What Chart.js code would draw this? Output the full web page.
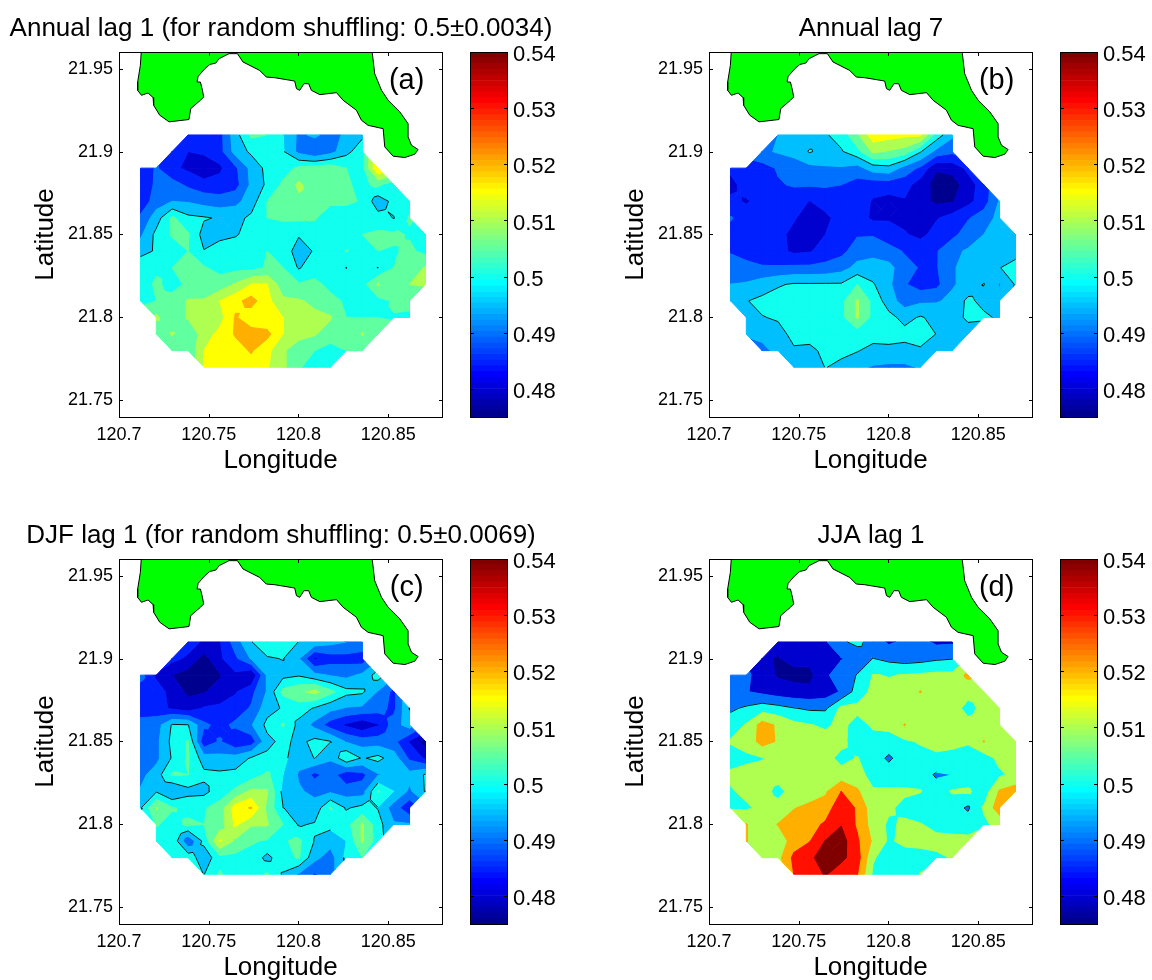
<!DOCTYPE html>
<html><head><meta charset="utf-8"><style>
html,body{margin:0;padding:0;background:#fff;width:1152px;height:980px;overflow:hidden}
canvas{position:absolute;display:block}
</style>
<script src="https://cdn.jsdelivr.net/npm/chart.js@4/dist/chart.umd.min.js"></script>
</head><body>
<script>
const lons=[120.712,120.7208,120.7296,120.7385,120.7473,120.7561,120.7649,120.7737,120.7826,120.7914,120.8002,120.8090,120.8178,120.8267,120.8355,120.8443,120.8531,120.8619,120.8708];
const lats=[21.91,21.90,21.89,21.88,21.87,21.86,21.85,21.84,21.83,21.82,21.81,21.80,21.79,21.78,21.77];
const rowStart=[3,2,0,0,0,0,0,0,0,0,0,1,1,2,4];

const annualLag1=[
[.487,.487,.488,.498,.506,.505,.500,.494,.496,.493,.496,.499],
[.487,.485,.486,.488,.497,.501,.502,.5005,.4935,.490,.493,.4985,.503],
[.487,.4905,.486,.484,.481,.484,.489,.4965,.5015,.503,.506,.507,.508,.505,.503,.52],
[.486,.491,.492,.489,.487,.487,.488,.496,.501,.506,.511,.507,.506,.5055,.504,.506,.502],
[.4865,.4925,.495,.4945,.493,.492,.4935,.4975,.505,.507,.509,.510,.506,.506,.5045,.497,.5015,.503],
[.491,.4975,.506,.5012,.5005,.4995,.4985,.501,.505,.5055,.506,.5055,.502,.502,.503,.502,.4998,.5055],
[.494,.5015,.5055,.5055,.498,.4985,.4995,.502,.503,.503,.5005,.5025,.5025,.5025,.505,.506,.506,.5045,.503],
[.4985,.5005,.503,.505,.5002,.5025,.503,.503,.505,.503,.4975,.5005,.503,.5052,.503,.505,.5045,.506,.5035],
[.503,.5045,.505,.506,.5055,.5035,.5035,.5035,.5055,.505,.4995,.503,.503,.4999,.5025,.4999,.505,.5065,.5105],
[.5035,.5055,.504,.5055,.506,.507,.5105,.515,.515,.507,.5055,.506,.504,.503,.503,.5105,.506,.510,.5105],
[.503,.505,.506,.5105,.5105,.515,.5185,.522,.5165,.511,.5105,.509,.506,.5045,.5035,.5035,.5055,.5065],
[.511,.506,.5105,.511,.513,.5205,.517,.516,.515,.512,.511,.5105,.505,.505,.505,.5048,.504],
[.5055,.5105,.506,.5125,.5165,.5205,.522,.5215,.515,.5115,.5105,.5075,.505,.5105,.506],
[.505,.5055,.515,.517,.518,.5205,.5165,.5105,.5075,.505,.503,.505,.505],
[.5155,.517,.518,.518,.5155,.511,.5055,.503,.5035]];

const annualLag7=[
[.495,.4965,.497,.4995,.502,.509,.518,.517,.516,.516,.503,.496],
[.494,.4955,.4965,.5005,.498,.4995,.5035,.511,.5095,.508,.5005,.4935,.491],
[.486,.4865,.488,.4905,.4925,.4935,.4945,.4945,.493,.4975,.4985,.493,.489,.4805,.482,.486],
[.4835,.487,.4875,.4895,.4905,.4905,.4905,.49,.488,.487,.487,.487,.4825,.478,.477,.483,.487],
[.486,.4845,.4865,.4875,.487,.4848,.4875,.4885,.4875,.4845,.4835,.4845,.4815,.479,.4795,.4835,.4875,.4955],
[.4905,.4875,.4875,.4875,.4855,.4825,.4835,.4875,.4875,.484,.4845,.4835,.4825,.4845,.487,.4895,.4925,.4965],
[.488,.4875,.4875,.4865,.4835,.4825,.485,.487,.4895,.4895,.487,.4855,.4835,.487,.4885,.4925,.495,.4965,.4965],
[.4895,.488,.487,.4865,.484,.4845,.487,.4885,.4925,.4935,.492,.4895,.4885,.4895,.494,.4955,.4965,.4975,.4975],
[.4925,.4915,.4905,.4905,.491,.491,.4915,.493,.4965,.497,.4965,.492,.4895,.4895,.4945,.4965,.4975,.4998,.5025],
[.495,.4955,.4975,.4995,.5005,.5005,.5005,.5005,.505,.5005,.496,.4905,.4875,.4885,.4945,.4965,.5002,.4945,.5005],
[.4955,.4998,.5012,.502,.5025,.503,.503,.5035,.5105,.5035,.4975,.4925,.494,.4945,.496,.5012,.4985,.4965],
[.4975,.4998,.5005,.5025,.503,.5035,.5035,.5105,.5035,.5015,.4985,.5005,.4985,.4965,.5015,.501,.4992],
[.4955,.4965,.4985,.5012,.5025,.503,.5035,.5025,.502,.5025,.5015,.505,.4998,.4965,.4965],
[.4935,.4965,.4995,.4985,.5015,.5015,.5003,.4985,.4985,.4985,.4985,.4965,.4965],
[.495,.4965,.5002,.4985,.4965,.4945,.494,.494,.4955]];

const djfLag1=[
[.4875,.484,.4845,.4925,.4998,.5035,.505,.4998,.4985,.4965,.495,.494],
[.4865,.484,.478,.484,.489,.4955,.4995,.5002,.4955,.484,.4875,.488,.487],
[.492,.484,.48,.4775,.4765,.4795,.484,.48,.496,.4985,.4995,.4965,.4945,.4935,.496,.5025],
[.487,.4875,.483,.479,.4795,.482,.4845,.4885,.4955,.5065,.509,.5115,.5065,.5015,.5008,.4945,.4885],
[.488,.4875,.484,.482,.4855,.486,.4875,.4905,.498,.5005,.5025,.4995,.4965,.4945,.494,.492,.4885,.5003],
[.4915,.4925,.5005,.5002,.491,.4885,.491,.4945,.5015,.5055,.4985,.4935,.4875,.484,.481,.4845,.4925,.4975],
[.4925,.4935,.5015,.5055,.486,.4905,.4855,.487,.4985,.5015,.4985,.5015,.5002,.4945,.4925,.4925,.4915,.4845,.4775],
[.492,.4935,.5005,.5055,.4975,.4965,.497,.5005,.5012,.5015,.4965,.5002,.4955,.5045,.4995,.5015,.4975,.489,.484],
[.4935,.4975,.5055,.505,.5012,.501,.5015,.5025,.506,.5,.4945,.4885,.4925,.4865,.4885,.4945,.4965,.4965,.5005],
[.4955,.4995,.4945,.4985,.4985,.5025,.506,.511,.5105,.4985,.4955,.494,.494,.4925,.4925,.5055,.5,.494,.5005],
[.4995,.5105,.5055,.5035,.5045,.507,.5175,.5205,.5085,.5002,.497,.4965,.5055,.4995,.5015,.4998,.4925,.486],
[.5055,.503,.506,.505,.507,.516,.5105,.5105,.505,.4995,.5005,.5015,.503,.5105,.502,.4955,.4955],
[.5005,.5045,.4905,.5015,.5155,.509,.5055,.5045,.5045,.506,.4998,.497,.5,.5105,.5025],
[.5035,.5035,.4965,.5035,.5035,.5035,.4985,.5035,.5055,.4965,.4925,.5015,.505],
[.4998,.5055,.503,.503,.5055,.4995,.4945,.4895,.4925]];

const jjaLag1=[
[.482,.484,.485,.489,.4985,.5025,.496,.4885,.492,.4935,.488,.4885],
[.481,.4795,.4825,.483,.484,.4895,.4935,.5002,.4975,.4955,.4965,.4985,.4995],
[.4935,.4925,.484,.479,.4775,.477,.4885,.4945,.5005,.5105,.5095,.5105,.5115,.5125,.5125,.5225],
[.492,.4905,.4875,.4845,.483,.4825,.4845,.491,.5045,.5125,.513,.5135,.5205,.515,.5135,.5125,.5115],
[.4985,.5015,.5055,.5035,.5005,.4985,.4985,.5125,.5125,.514,.5135,.5135,.5135,.5135,.5135,.5075,.5125,.5105],
[.5045,.511,.524,.5185,.5125,.5105,.5085,.5125,.5065,.5115,.513,.5205,.5135,.5135,.5135,.5125,.5115,.5115],
[.511,.513,.524,.519,.5135,.514,.5135,.513,.5045,.5065,.5055,.5085,.511,.5125,.5135,.511,.5205,.5145,.5105],
[.5055,.5085,.5095,.5135,.5135,.5135,.5135,.507,.5105,.5045,.4985,.5045,.5065,.5085,.506,.506,.5055,.5125,.5135],
[.512,.5125,.513,.5135,.5135,.5135,.5135,.5135,.5135,.5065,.5045,.5045,.5055,.4985,.5,.5045,.5055,.5085,.5125],
[.509,.5125,.5135,.5075,.5135,.5145,.5185,.53,.5215,.511,.5115,.5115,.5105,.505,.511,.5115,.5045,.521,.5245],
[.509,.5085,.5125,.5135,.5195,.5225,.5245,.5375,.5285,.514,.5115,.5075,.505,.505,.5045,.4985,.511,.526],
[.5205,.5135,.5205,.5245,.5265,.5315,.5395,.5285,.5155,.5085,.5115,.5105,.5075,.5065,.5055,.5085,.5125],
[.5205,.5135,.5135,.5245,.5295,.5405,.5445,.5315,.5185,.5085,.5125,.5135,.5125,.5125,.5125],
[.5105,.5165,.5325,.5385,.5435,.5425,.5345,.511,.5055,.5055,.5055,.5085,.5105],
[.5305,.5345,.541,.5345,.5305,.5085,.5045,.5045,.5105]];

const coastLon=[120.7127,120.7119,120.7104,120.7104,120.7125,120.7162,120.7190,120.7193,120.7227,120.7279,120.7390,120.7400,120.7454,120.7472,120.7465,120.7454,120.7435,120.7441,120.7478,120.7506,120.7539,120.7558,120.7613,120.7660,120.7691,120.7784,120.7821,120.7868,120.7979,120.7989,120.8007,120.8031,120.8057,120.8072,120.8119,120.8212,120.8249,120.8323,120.8351,120.8388,120.8472,120.8481,120.8528,120.8593,120.8648,120.8667,120.8630,120.8611,120.8611,120.8565,120.8500,120.8463,120.8425,120.8412,120.8412];
const coastLat=[21.965,21.9519,21.9419,21.9369,21.9339,21.9353,21.9325,21.9279,21.9219,21.9179,21.9193,21.9259,21.9309,21.9329,21.9369,21.9419,21.9419,21.9453,21.9499,21.9525,21.9533,21.9560,21.9590,21.9590,21.9540,21.9489,21.9449,21.9445,21.9425,21.9379,21.9369,21.9409,21.9409,21.9369,21.9343,21.9355,21.9309,21.9249,21.9189,21.9158,21.9138,21.9028,21.8972,21.8964,21.8984,21.9012,21.9038,21.9088,21.9168,21.9239,21.9309,21.9369,21.9469,21.9590,21.965];

const lonTicks=[120.7,120.75,120.8,120.85];
const latTicks=[21.75,21.8,21.85,21.9,21.95];
const colorTicks=[.48,.49,.50,.51,.52,.53,.54];
const levelsFine=[.475,.48,.485,.49,.495,.5,.505,.51,.515,.52,.525,.53,.535,.54];
const levelsCoarse=[.475,.48,.49,.5,.51,.52,.53,.54];
const contourLevel=.5;
const titles=['Annual lag 1 (for random shuffling: 0.5±0.0034)','Annual lag 7','DJF lag 1 (for random shuffling: 0.5±0.0069)','JJA lag 1'];
const tags=['(a)','(b)','(c)','(d)'];
const grids=[annualLag1,annualLag7,djfLag1,jjaLag1];
const gridLevels=[levelsFine,levelsFine,levelsFine,levelsCoarse];

const FONT='"Liberation Sans", Arial, sans-serif';
const CMIN=.475,CMAX=.54;
Chart.defaults.color='#000';
Chart.defaults.font.family=FONT;

function jet(k){ // MATLAB jet(64), k = 1..64
  const u=j=>j<1?0:j<=16?j/16:j<=31?1:j<48?(48-j)/16:0;
  return `rgb(${Math.round(255*u(k-24))},${Math.round(255*u(k-8))},${Math.round(255*u(k+8))})`;
}
function levelColor(v){
  const idx=Math.min(63,Math.floor((v-CMIN)/(CMAX-CMIN)*64+1e-9));
  return jet(idx+1);
}
function fullGrid(rows){
  return lats.map((_,j)=>lons.map((_,i)=>{
    const k=i-rowStart[j];
    const v=rows[j][k];
    return (k>=0 && v!==undefined)?v:null;
  }));
}
function cellPolygons(G){
  const out=[];
  for(let j=0;j<lats.length-1;j++)for(let i=0;i<lons.length-1;i++){
    const p=[[i,j],[i+1,j],[i+1,j+1],[i,j+1]]
      .filter(([a,b])=>G[b][a]!==null)
      .map(([a,b])=>({x:lons[a],y:lats[b],v:G[b][a]}));
    if(p.length<3)continue;
    if(p.length===4){
      const [a,b,c,d]=p.map(q=>q.v);
      const saddle=Math.min(a,c)>Math.max(b,d)||Math.min(b,d)>Math.max(a,c);
      if(saddle){
        // saddle cell: split round its centre so the contours do not bridge wrongly
        const m={x:(p[0].x+p[2].x)/2,y:(p[0].y+p[2].y)/2,v:(a+b+c+d)/4};
        for(let k=0;k<4;k++)out.push([p[k],p[(k+1)%4],m]);
        continue;
      }
    }
    out.push(p);
  }
  return out;
}
function lerp(a,b,l){const t=(l-a.v)/(b.v-a.v);return{x:a.x+(b.x-a.x)*t,y:a.y+(b.y-a.y)*t,v:l};}
function clip(poly,l,keepAbove){
  const res=[],ok=q=>keepAbove?q.v>=l:q.v<=l;
  for(let i=0;i<poly.length;i++){
    const a=poly[i],b=poly[(i+1)%poly.length];
    if(ok(a))res.push(a);
    if(ok(a)!==ok(b))res.push(lerp(a,b,l));
  }
  return res;
}
function bandDatasets(G,levels){
  const cells=cellPolygons(G),ds=[];
  levels.forEach((lo,n)=>{
    const hi=n+1<levels.length?levels[n+1]:Infinity;
    const low=n===0?-Infinity:lo;
    const col=levelColor(lo);
    cells.forEach(c=>{
      let p=c;
      if(low>-Infinity)p=clip(p,low,true);
      if(p.length>=3&&hi<Infinity)p=clip(p,hi,false);
      if(p.length<3)return;
      const data=p.map(q=>({x:q.x,y:q.y}));
      data.push(data[0]);
      ds.push({data,showLine:true,fill:'shape',backgroundColor:col,borderColor:col,borderWidth:1,pointRadius:0,tension:0});
    });
  });
  return ds.reverse();
}
function contourData(G,l){
  const pts=[],gap={x:NaN,y:NaN};
  cellPolygons(G).forEach(c=>{
    const cr=[];
    c.forEach((a,i)=>{
      const b=c[(i+1)%c.length];
      if((a.v-l)*(b.v-l)<0)cr.push(lerp(a,b,l));
    });
    if(cr.length===2)pts.push(cr[0],cr[1],gap);
  });
  return pts.map(q=>({x:q.x,y:q.y}));
}

const frame={id:'frame',afterDatasetsDraw(chart,_a,opts){
  const {ctx,chartArea:A}=chart;
  ctx.save();
  ctx.strokeStyle='#000';ctx.lineWidth=1;
  const L=A.left+.5,R=A.right+.5,T=A.top+.5,B=A.bottom+.5,len=3.5;
  ctx.strokeRect(L,T,R-L,B-T);
  ctx.beginPath();
  const xs=chart.scales.x,ys=chart.scales.y;
  if(opts.xTicks)xs.ticks.forEach(t=>{const p=Math.round(xs.getPixelForValue(t.value))+.5;ctx.moveTo(p,B);ctx.lineTo(p,B-len);ctx.moveTo(p,T);ctx.lineTo(p,T+len);});
  ys.ticks.forEach(t=>{const p=Math.round(ys.getPixelForValue(t.value))+.5;ctx.moveTo(L,p);ctx.lineTo(L+len,p);ctx.moveTo(R,p);ctx.lineTo(R-len,p);});
  ctx.stroke();
  if(opts.tag){
    ctx.fillStyle='#000';ctx.font='29px '+FONT;ctx.textAlign='center';ctx.textBaseline='middle';
    ctx.fillText(opts.tag,xs.getPixelForValue(120.8603),ys.getPixelForValue(21.9425));
  }
  ctx.restore();
}};

function addCanvas(left,top,w,h){
  const c=document.createElement('canvas');
  c.width=w;c.height=h;c.style.left=left+'px';c.style.top=top+'px';
  document.body.appendChild(c);
  return c;
}
const PW=562,PH=480,AXL=119,PADR=120;

function drawPanel(n,left,top){
  const G=fullGrid(grids[n]);
  const coast=coastLon.map((x,i)=>({x,y:coastLat[i]}));
  const datasets=[
    {data:contourData(G,contourLevel),showLine:true,fill:false,borderColor:'#000',borderWidth:.9,pointRadius:0,tension:0,spanGaps:false},
    {data:coast,showLine:true,fill:'shape',backgroundColor:'#00ff00',borderColor:'#000',borderWidth:1,pointRadius:0,tension:0},
    ...bandDatasets(G,gridLevels[n])
  ];
  new Chart(addCanvas(left,top,PW,PH),{
    type:'scatter',
    data:{datasets},
    plugins:[frame],
    options:{
      responsive:false,animation:false,devicePixelRatio:1,events:[],
      plugins:{
        legend:{display:false},tooltip:{enabled:false},
        title:{display:true,text:titles[n],color:'#000',font:{size:26,weight:'normal',family:FONT,lineHeight:1.2},padding:{top:13.4,bottom:7.4}},
        frame:{xTicks:true,tag:tags[n]}
      },
      scales:{
        x:{type:'linear',min:120.7,max:120.88,grid:{display:false,drawTicks:false},border:{display:false},
          afterBuildTicks:s=>{s.ticks=lonTicks.map(value=>({value}));},
          afterFit:s=>{s.height=PH-417;},
          ticks:{font:{size:18,family:FONT},padding:7,maxRotation:0,autoSkip:false,color:'#000',callback:v=>String(v)},
          title:{display:true,text:'Longitude',color:'#000',font:{size:26,family:FONT,lineHeight:1},padding:{top:0,bottom:6}}},
        y:{type:'linear',min:21.74,max:21.96,grid:{display:false,drawTicks:false},border:{display:false},
          afterBuildTicks:s=>{s.ticks=latTicks.map(value=>({value}));},
          afterFit:s=>{s.width=AXL;},
          ticks:{font:{size:18,family:FONT},padding:6,autoSkip:false,color:'#000',callback:v=>String(v)},
          title:{display:true,text:'Latitude',color:'#000',font:{size:26,family:FONT,lineHeight:1},padding:{top:32.5,bottom:0}}},
        spacer:{type:'linear',position:'right',min:0,max:1,grid:{display:false,drawTicks:false},border:{display:false},
          ticks:{display:false},afterFit:s=>{s.width=PADR;}}
      }
    }
  });
}
function drawColorbar(left,top){
  const datasets=[];
  for(let i=0;i<64;i++){
    const lo=CMIN+(CMAX-CMIN)*i/64,hi=CMIN+(CMAX-CMIN)*(i+1)/64;
    datasets.push({data:[[lo,hi]],backgroundColor:jet(i+1),borderWidth:0,barPercentage:1,categoryPercentage:1});
  }
  new Chart(addCanvas(left,top,102,PH),{
    type:'bar',
    data:{labels:['c'],datasets},
    plugins:[frame],
    options:{
      responsive:false,animation:false,devicePixelRatio:1,events:[],
      layout:{padding:{left:10,right:0,top:52,bottom:PH-417}},
      plugins:{legend:{display:false},tooltip:{enabled:false},frame:{xTicks:false}},
      scales:{
        x:{display:false,stacked:true,offset:true},
        y:{position:'right',min:CMIN,max:CMAX,grid:{display:false,drawTicks:false},border:{display:false},
          afterBuildTicks:s=>{s.ticks=colorTicks.map(value=>({value}));},
          afterFit:s=>{s.width=55;},
          ticks:{font:{size:22,family:FONT},padding:6,labelOffset:3,autoSkip:false,color:'#000',callback:v=>v.toFixed(2).replace(/0$/,m=>Math.abs(v-.5)<1e-9?'':m)}}
      }
    }
  });
}
[[0,0],[590,0],[0,507],[590,507]].forEach(([x,y],n)=>{
  drawPanel(n,x,y);
  drawColorbar(x+460,y);
});
</script>
</body></html>
